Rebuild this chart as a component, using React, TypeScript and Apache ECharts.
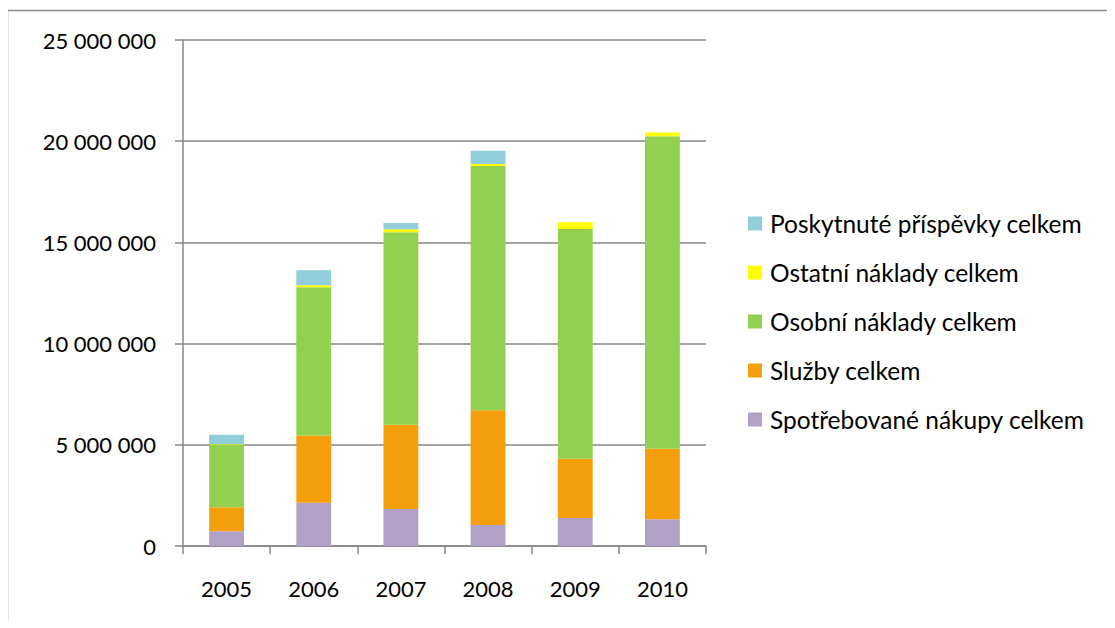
import React, { useEffect, useRef } from "react";
import * as echarts from "echarts";

const years = ["2005", "2006", "2007", "2008", "2009", "2010"];
const spotrebovane = [730000, 2140000, 1830000, 1040000, 1380000, 1320000];
const sluzby = [1180000, 3320000, 4160000, 5670000, 2930000, 3480000];
const osobni = [3100000, 7320000, 9510000, 12060000, 11350000, 15450000];
const ostatni = [30000, 100000, 150000, 100000, 330000, 180000];
const poskytnute = [460000, 740000, 310000, 660000, 0, 0];

const seriesNames = [
  "Spotřebované nákupy celkem",
  "Služby celkem",
  "Osobní náklady celkem",
  "Ostatní náklady celkem",
  "Poskytnuté příspěvky celkem",
];
const colors = ["#B2A1C7", "#F59F0C", "#92D050", "#FFFF00", "#92CDDC"];

const FONT = "Lato";

export default function App() {
  const ref = useRef<HTMLDivElement>(null);
  useEffect(() => {
    if (!ref.current) return;
    const chart = echarts.init(ref.current, null, { renderer: "svg" });
    const dataSets = [spotrebovane, sluzby, osobni, ostatni, poskytnute];
    chart.setOption({
      animation: false,
      textStyle: { fontFamily: FONT },
      graphic: [
        {
          type: "rect",
          shape: { x: 7.5, y: 10.5, width: 1200, height: 700 },
          style: { fill: "none", stroke: "#8a8a8a", lineWidth: 1.5 },
          silent: true,
        },
      ],
      grid: { left: 183, right: 409, top: 40, bottom: 82 },
      legend: {
        orient: "vertical",
        left: 748,
        top: 211,
        padding: 0,
        itemWidth: 14,
        itemHeight: 14,
        itemGap: 24,
        icon: "rect",
        data: [...seriesNames].reverse(),
        textStyle: { fontFamily: FONT, fontSize: 24.5, lineHeight: 24, color: "#000", padding: [0, 0, 0, 3] },
      },
      xAxis: {
        type: "category",
        data: years,
        axisLine: { lineStyle: { color: "#868686", width: 1.5 } },
        axisTick: { show: true, length: 8, lineStyle: { color: "#868686", width: 1.5 } },
        axisLabel: { fontFamily: FONT, fontSize: 22, color: "#000", margin: 31 },
      },
      yAxis: {
        type: "value",
        min: 0,
        max: 25000000,
        interval: 5000000,
        axisLine: { show: true, lineStyle: { color: "#868686", width: 1.5 } },
        axisTick: { show: true, length: 8, lineStyle: { color: "#868686", width: 1.5 } },
        splitLine: { lineStyle: { color: "#868686", width: 1.5 } },
        axisLabel: {
          fontFamily: FONT,
          fontSize: 22,
          color: "#000",
          margin: 27,
          formatter: (v: number) => v.toString().replace(/\B(?=(\d{3})+(?!\d))/g, " "),
        },
      },
      series: seriesNames.map((name, i) => ({
        name,
        type: "bar",
        stack: "total",
        barWidth: "40%",
        data: dataSets[i],
        itemStyle: { color: colors[i] },
      })),
    });
    return () => chart.dispose();
  }, []);
  return <div ref={ref} style={{ width: 1115, height: 628, margin: -8 }} />;
}
